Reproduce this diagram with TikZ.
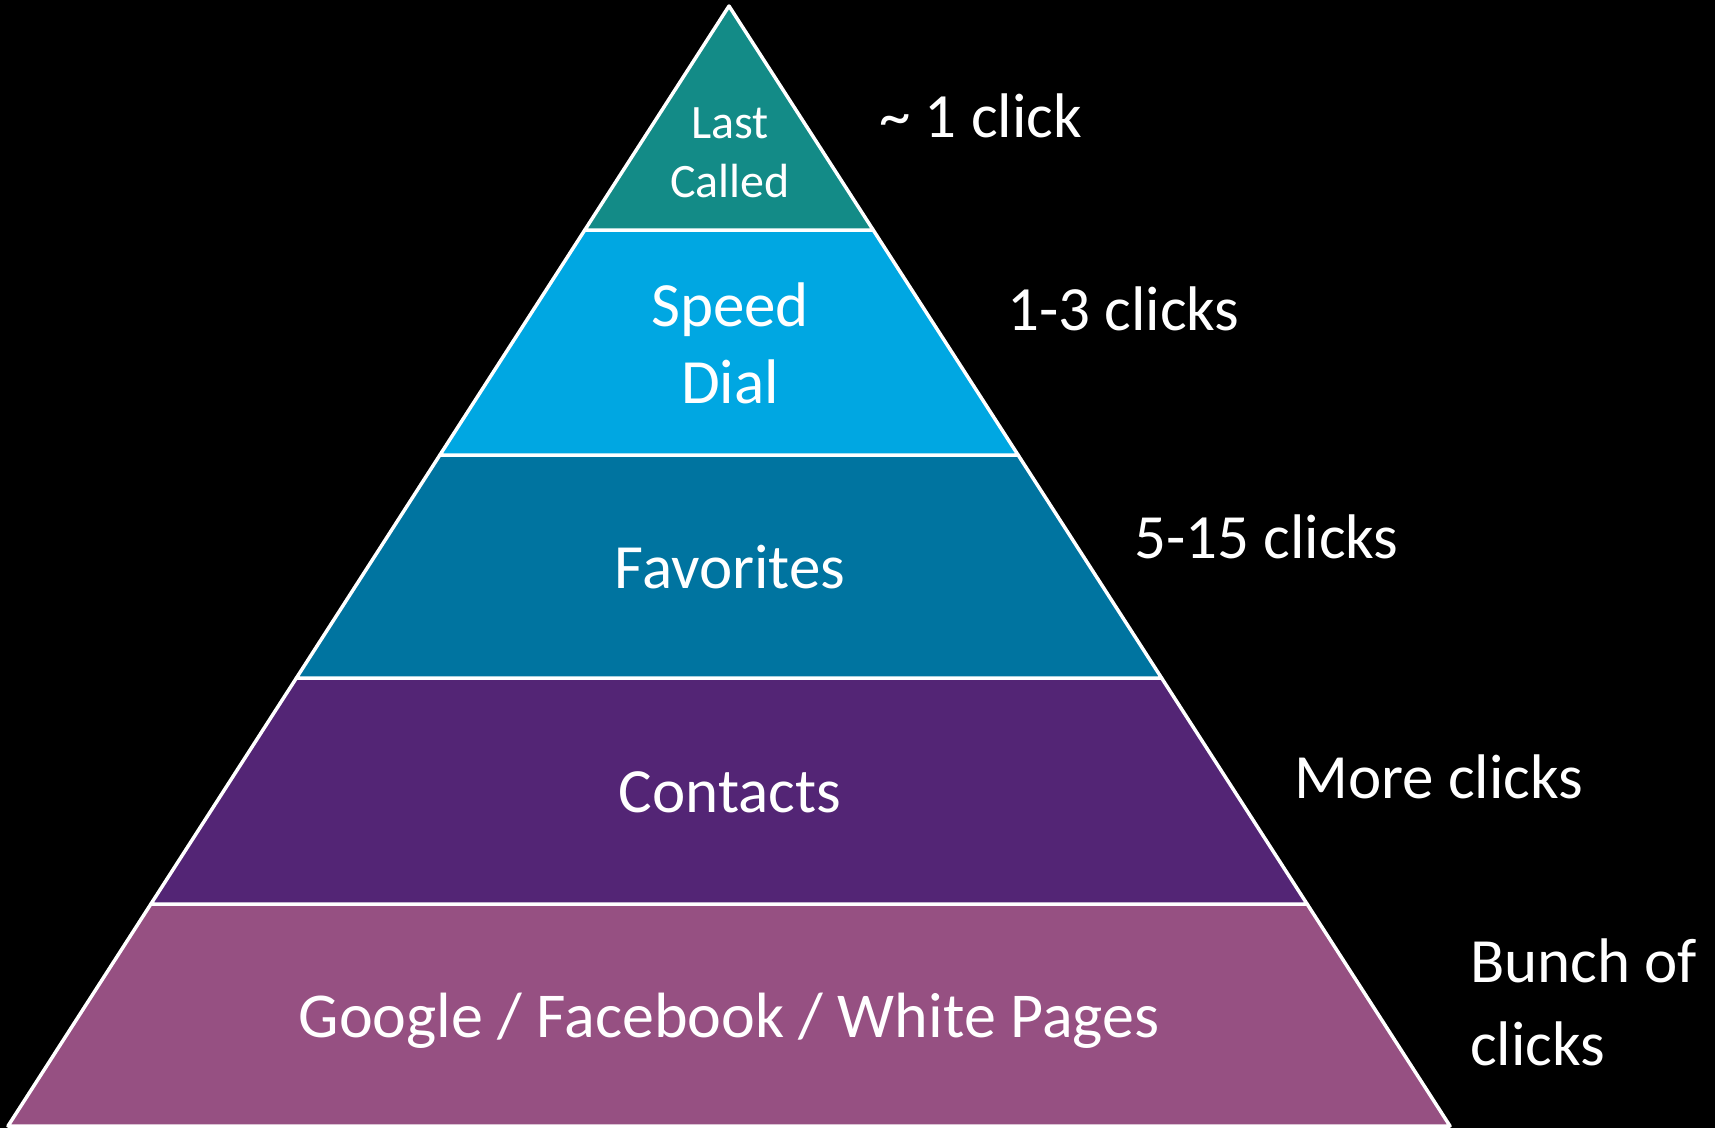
\documentclass[tikz,border=0pt]{standalone}
\usepackage{fontspec}
\setmainfont{Carlito}
\definecolor{cTop}{RGB}{19,139,135}
\definecolor{cSpeed}{RGB}{0,167,226}
\definecolor{cFav}{RGB}{0,116,160}
\definecolor{cCont}{RGB}{83,37,117}
\definecolor{cBase}{RGB}{150,80,130}
\begin{document}
\begin{tikzpicture}[x=1pt,y=-1pt,
  layer/.style={draw=white, line width=3.5pt, line join=round},
  big/.style={text=white, font=\fontsize{63}{77}\selectfont, inner sep=0pt, align=center},
  small/.style={text=white, font=\fontsize{48}{59}\selectfont, inner sep=0pt, align=center},
  lbl/.style={text=white, font=\fontsize{63}{83}\selectfont, inner sep=0pt, align=left, anchor=base west}]
\fill[black] (0,0) rectangle (1715,1128);
\useasboundingbox (0,0) rectangle (1715,1128);
% layers
\filldraw[layer, fill=cBase] (150.9,904) -- (1307.1,904) -- (1450,1126) -- (8,1126) -- cycle;
\filldraw[layer, fill=cCont] (296.4,678) -- (1161.6,678) -- (1307.1,904) -- (150.9,904) -- cycle;
\filldraw[layer, fill=cFav] (439.9,455) -- (1018.1,455) -- (1161.6,678) -- (296.4,678) -- cycle;
\filldraw[layer, fill=cSpeed] (584.8,230) -- (873.2,230) -- (1018.1,455) -- (439.9,455) -- cycle;
\filldraw[layer, fill=cTop] (729,6) -- (873.2,230) -- (584.8,230) -- cycle;
% layer texts (base anchor = last line's baseline)
\node[small, anchor=base] (last) at (730,197) {Last\\Called};
\node[big, anchor=base] (speed) at (730,403) {Speed\\Dial};
\node[big, anchor=base] (fav) at (730,588) {Favorites};
\node[big, anchor=base] (cont) at (730,812) {Contacts};
\node[big, anchor=base, font=\fontsize{64}{77}\selectfont] (goog) at (729,1037) {Google / Facebook / White Pages};
% click labels
\node[lbl] (k1) at (879,137) {\textasciitilde{} 1 click};
\node[lbl] (k2) at (1007,330) {1-3 clicks};
\node[lbl] (k3) at (1134,558) {5-15 clicks};
\node[lbl] (k4) at (1294,798) {More clicks};
\node[lbl] (k5) at (1470,1065) {Bunch of\\clicks};
\end{tikzpicture}
\end{document}
